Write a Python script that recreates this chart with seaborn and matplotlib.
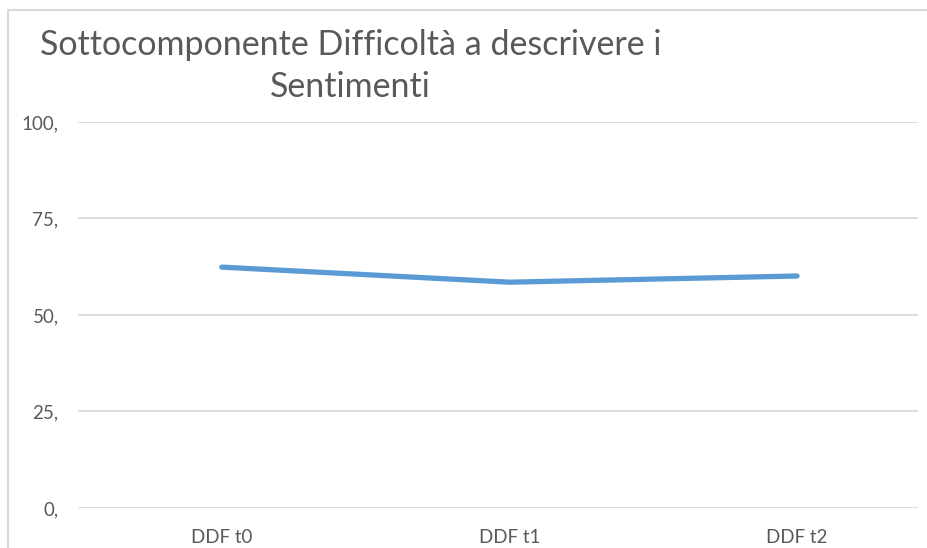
import matplotlib
matplotlib.use("Agg")
import matplotlib.pyplot as plt
import seaborn as sns
import pandas as pd
from matplotlib.lines import Line2D

categories = ["DDF t0", "DDF t1", "DDF t2"]
values = [62.4, 58.5, 60.1]
yticks = [0, 25, 50, 75, 100]
ytick_labels = ["0,", "25,", "50,", "75,", "100,"]

df = pd.DataFrame({"tempo": categories, "punteggio": values})

sns.set_style("white")
plt.rcParams["font.family"] = ["Lato", "DejaVu Sans"]

fig = plt.figure(figsize=(9.27, 5.48), dpi=100)
ax = fig.add_axes([0.0841, 0.073, 0.906, 0.7044])

sns.lineplot(data=df, x="tempo", y="punteggio", ax=ax, color="#5B9BD5",
             linewidth=3.8, solid_capstyle="round", solid_joinstyle="round")

ax.set_ylim(0, 100)
ax.set_xlim(-0.5, 2.42)
ax.set_yticks(yticks)
ax.set_yticklabels(ytick_labels)
ax.yaxis.grid(True, color="#D9D9D9", linewidth=1.3)
ax.set_axisbelow(True)
for s in ax.spines.values():
    s.set_visible(False)
ax.set_xlabel("")
ax.set_ylabel("")
ax.tick_params(axis="y", length=0, pad=14, labelsize=13.5, labelcolor="#595959")
ax.tick_params(axis="x", length=0, pad=15, labelsize=13.5, labelcolor="#595959")

# bordo del grafico (ritagliato)
fig.add_artist(Line2D([0.009, 0.009], [0.0, 0.982], transform=fig.transFigure,
                      color="#D9D9D9", linewidth=1.5))
fig.add_artist(Line2D([0.009, 1.0], [0.982, 0.982], transform=fig.transFigure,
                      color="#D9D9D9", linewidth=1.5))

fig.text(0.378, 0.918, "Sottocomponente Difficoltà a descrivere i", ha="center",
         va="center", fontsize=24.5, color="#595959")
fig.text(0.378, 0.841, "Sentimenti", ha="center", va="center",
         fontsize=24.5, color="#595959")

fig.savefig("out.png", dpi=100)
